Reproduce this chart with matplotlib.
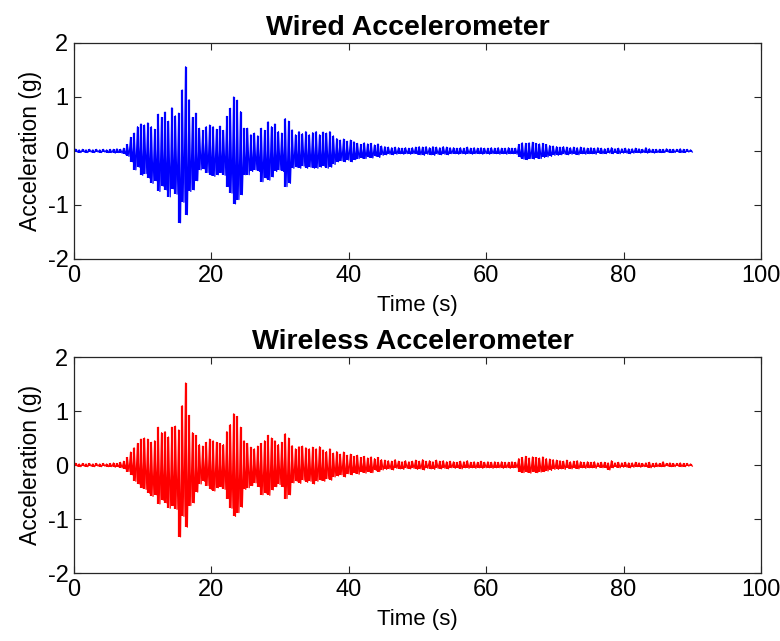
import numpy as np
import matplotlib
matplotlib.use('Agg')
import matplotlib.pyplot as plt

# peak values, one per 0.5 s bin (0 .. 90 s)
bin_s = 0.5

wired_upper = [
    0.03, 0.02, 0.03, 0.02, 0.03, 0.02, 0.03, 0.02, 0.03, 0.02,
    0.03, 0.03, 0.04, 0.03, 0.05, 0.12, 0.25, 0.33, 0.45, 0.50,
    0.48, 0.52, 0.45, 0.40, 0.68, 0.62, 0.72, 0.55, 0.80, 0.65,
    0.70, 1.13, 1.56, 0.95, 0.62, 0.70, 0.42, 0.38, 0.45, 0.48,
    0.45, 0.40, 0.46, 0.38, 0.64, 0.79, 1.00, 0.94, 0.73, 0.42,
    0.42, 0.30, 0.33, 0.28, 0.42, 0.38, 0.54, 0.45, 0.50, 0.36,
    0.33, 0.60, 0.55, 0.39, 0.30, 0.36, 0.32, 0.36, 0.30, 0.34,
    0.36, 0.30, 0.35, 0.33, 0.36, 0.28, 0.23, 0.20, 0.22, 0.18,
    0.20, 0.17, 0.14, 0.12, 0.15, 0.13, 0.14, 0.11, 0.13, 0.09,
    0.08, 0.07, 0.06, 0.07, 0.06, 0.05, 0.06, 0.05, 0.06, 0.07,
    0.08, 0.07, 0.08, 0.06, 0.08, 0.07, 0.06, 0.08, 0.07, 0.06,
    0.06, 0.05, 0.06, 0.05, 0.07, 0.05, 0.06, 0.05, 0.06, 0.05,
    0.05, 0.06, 0.05, 0.06, 0.05, 0.05, 0.06, 0.05, 0.05, 0.12,
    0.15, 0.14, 0.15, 0.16, 0.14, 0.13, 0.14, 0.12, 0.10, 0.09,
    0.08, 0.07, 0.08, 0.07, 0.06, 0.07, 0.06, 0.07, 0.06, 0.05,
    0.06, 0.05, 0.06, 0.05, 0.04, 0.05, 0.06, 0.04, 0.05, 0.04,
    0.05, 0.04, 0.04, 0.05, 0.04, 0.03, 0.06, 0.04, 0.03, 0.03,
    0.03, 0.03, 0.04, 0.03, 0.03, 0.03, 0.04, 0.03, 0.03, 0.02,
]
wired_lower = [
    -0.02, -0.03, -0.02, -0.03, -0.02, -0.03, -0.02, -0.03, -0.02, -0.03,
    -0.03, -0.04, -0.03, -0.04, -0.06, -0.10, -0.20, -0.35, -0.30, -0.45,
    -0.42, -0.50, -0.60, -0.55, -0.75, -0.65, -0.72, -0.85, -0.70, -0.80,
    -1.33, -0.95, -1.18, -0.75, -0.72, -0.55, -0.35, -0.33, -0.40, -0.45,
    -0.47, -0.44, -0.40, -0.45, -0.66, -0.78, -0.98, -0.90, -0.81, -0.44,
    -0.44, -0.38, -0.35, -0.38, -0.57, -0.50, -0.54, -0.48, -0.38, -0.35,
    -0.38, -0.66, -0.60, -0.32, -0.30, -0.32, -0.28, -0.32, -0.30, -0.32,
    -0.32, -0.30, -0.28, -0.32, -0.30, -0.25, -0.20, -0.18, -0.20, -0.17,
    -0.20, -0.16, -0.14, -0.13, -0.14, -0.12, -0.13, -0.10, -0.12, -0.08,
    -0.07, -0.06, -0.07, -0.06, -0.05, -0.06, -0.05, -0.06, -0.05, -0.06,
    -0.07, -0.08, -0.06, -0.07, -0.08, -0.06, -0.07, -0.06, -0.07, -0.05,
    -0.05, -0.06, -0.05, -0.06, -0.05, -0.06, -0.05, -0.05, -0.06, -0.05,
    -0.06, -0.05, -0.05, -0.06, -0.05, -0.06, -0.05, -0.05, -0.06, -0.11,
    -0.15, -0.16, -0.14, -0.15, -0.13, -0.14, -0.12, -0.11, -0.10, -0.08,
    -0.08, -0.07, -0.06, -0.07, -0.06, -0.06, -0.07, -0.05, -0.06, -0.05,
    -0.05, -0.06, -0.04, -0.05, -0.05, -0.04, -0.05, -0.04, -0.05, -0.04,
    -0.04, -0.05, -0.04, -0.03, -0.04, -0.03, -0.04, -0.03, -0.04, -0.03,
    -0.03, -0.03, -0.02, -0.03, -0.03, -0.02, -0.03, -0.03, -0.02, -0.02,
]

wireless_upper = [
    0.03, 0.02, 0.03, 0.02, 0.03, 0.02, 0.03, 0.02, 0.03, 0.02,
    0.03, 0.04, 0.03, 0.05, 0.07, 0.14, 0.24, 0.32, 0.40, 0.48,
    0.50, 0.48, 0.42, 0.45, 0.70, 0.60, 0.62, 0.52, 0.70, 0.72,
    0.65, 1.10, 1.52, 0.92, 0.60, 0.55, 0.38, 0.35, 0.42, 0.48,
    0.45, 0.42, 0.40, 0.38, 0.62, 0.75, 0.95, 0.90, 0.70, 0.45,
    0.40, 0.33, 0.30, 0.35, 0.40, 0.45, 0.55, 0.50, 0.45, 0.38,
    0.42, 0.58, 0.50, 0.36, 0.30, 0.34, 0.35, 0.32, 0.30, 0.33,
    0.30, 0.34, 0.28, 0.25, 0.30, 0.22, 0.25, 0.20, 0.24, 0.18,
    0.20, 0.16, 0.18, 0.14, 0.16, 0.13, 0.15, 0.12, 0.14, 0.10,
    0.09, 0.08, 0.07, 0.10, 0.07, 0.06, 0.08, 0.06, 0.07, 0.09,
    0.07, 0.10, 0.07, 0.08, 0.06, 0.09, 0.07, 0.08, 0.06, 0.07,
    0.06, 0.05, 0.07, 0.06, 0.08, 0.05, 0.06, 0.05, 0.07, 0.05,
    0.06, 0.05, 0.06, 0.05, 0.06, 0.05, 0.05, 0.06, 0.05, 0.12,
    0.14, 0.16, 0.13, 0.15, 0.14, 0.13, 0.15, 0.12, 0.11, 0.10,
    0.09, 0.08, 0.07, 0.09, 0.06, 0.07, 0.08, 0.06, 0.05, 0.06,
    0.05, 0.06, 0.04, 0.05, 0.05, 0.04, 0.08, 0.04, 0.05, 0.04,
    0.05, 0.04, 0.04, 0.05, 0.04, 0.03, 0.04, 0.05, 0.03, 0.04,
    0.03, 0.06, 0.03, 0.04, 0.03, 0.03, 0.04, 0.03, 0.03, 0.02,
]
wireless_lower = [
    -0.02, -0.03, -0.02, -0.03, -0.02, -0.03, -0.02, -0.03, -0.02, -0.03,
    -0.03, -0.04, -0.03, -0.05, -0.07, -0.12, -0.18, -0.30, -0.35, -0.42,
    -0.45, -0.52, -0.58, -0.55, -0.72, -0.65, -0.70, -0.80, -0.75, -0.82,
    -1.33, -0.95, -1.15, -0.75, -0.70, -0.50, -0.35, -0.30, -0.38, -0.45,
    -0.48, -0.42, -0.40, -0.45, -0.62, -0.80, -0.95, -0.88, -0.78, -0.45,
    -0.42, -0.38, -0.33, -0.40, -0.55, -0.52, -0.56, -0.46, -0.40, -0.36,
    -0.40, -0.62, -0.55, -0.33, -0.30, -0.34, -0.28, -0.32, -0.30, -0.35,
    -0.30, -0.28, -0.30, -0.25, -0.28, -0.22, -0.20, -0.18, -0.22, -0.16,
    -0.18, -0.15, -0.17, -0.13, -0.15, -0.12, -0.14, -0.10, -0.12, -0.09,
    -0.08, -0.07, -0.09, -0.06, -0.07, -0.08, -0.06, -0.07, -0.06, -0.08,
    -0.07, -0.09, -0.06, -0.07, -0.08, -0.06, -0.07, -0.06, -0.07, -0.05,
    -0.06, -0.05, -0.07, -0.05, -0.06, -0.05, -0.06, -0.05, -0.06, -0.05,
    -0.05, -0.06, -0.05, -0.05, -0.06, -0.05, -0.06, -0.05, -0.05, -0.12,
    -0.14, -0.13, -0.15, -0.12, -0.14, -0.13, -0.12, -0.11, -0.10, -0.08,
    -0.08, -0.07, -0.08, -0.06, -0.07, -0.06, -0.07, -0.05, -0.06, -0.05,
    -0.05, -0.06, -0.04, -0.05, -0.05, -0.09, -0.05, -0.04, -0.05, -0.04,
    -0.04, -0.05, -0.04, -0.03, -0.04, -0.03, -0.04, -0.05, -0.04, -0.03,
    -0.03, -0.03, -0.02, -0.03, -0.03, -0.02, -0.03, -0.03, -0.02, -0.02,
]

panels = [
    ('Wired Accelerometer', wired_upper, wired_lower, 'blue', 0.486),
    ('Wireless Accelerometer', wireless_upper, wireless_lower, 'red', 0.494),
]

plt.rcParams['font.family'] = ['Liberation Sans', 'DejaVu Sans']
plt.rcParams['axes.unicode_minus'] = False

fig = plt.figure(figsize=(7.8, 6.41), dpi=100)
boxes = [[0.0949, 0.596, 0.8807, 0.337], [0.0949, 0.106, 0.8807, 0.337]]

for box, (title, up, lo, col, tx) in zip(boxes, panels):
    ax = fig.add_axes(box)
    n = len(up)
    t = np.arange(n) * bin_s + bin_s * 0.5
    # one stroke per bin, plus the oscillation joining neighbouring peaks
    ax.vlines(t, lo, up, color=col, lw=1.6)
    tz = np.repeat(t, 2)
    tz[1::2] += bin_s * 0.5
    yz = np.empty(2 * n)
    yz[0::2] = up
    yz[1::2] = lo
    ax.plot(tz, yz, color=col, lw=0.9)
    ax.set_xlim(0, 100)
    ax.set_ylim(-2, 2)
    ax.set_xticks([0, 20, 40, 60, 80, 100])
    ax.set_yticks([-2, -1, 0, 1, 2])
    ax.set_title(title, fontsize=20.5, fontweight='bold', pad=6, x=tx)
    ax.set_xlabel('Time (s)', fontsize=16, labelpad=6)
    ax.set_ylabel('Acceleration (g)', fontsize=16.5, labelpad=4)
    ax.tick_params(direction='in', top=True, right=True, labelsize=17,
                   length=5, width=0.8, color='#262626', pad=4)
    for s in ax.spines.values():
        s.set_color('#262626')
        s.set_linewidth(0.9)

fig.savefig('out.png', dpi=100)
